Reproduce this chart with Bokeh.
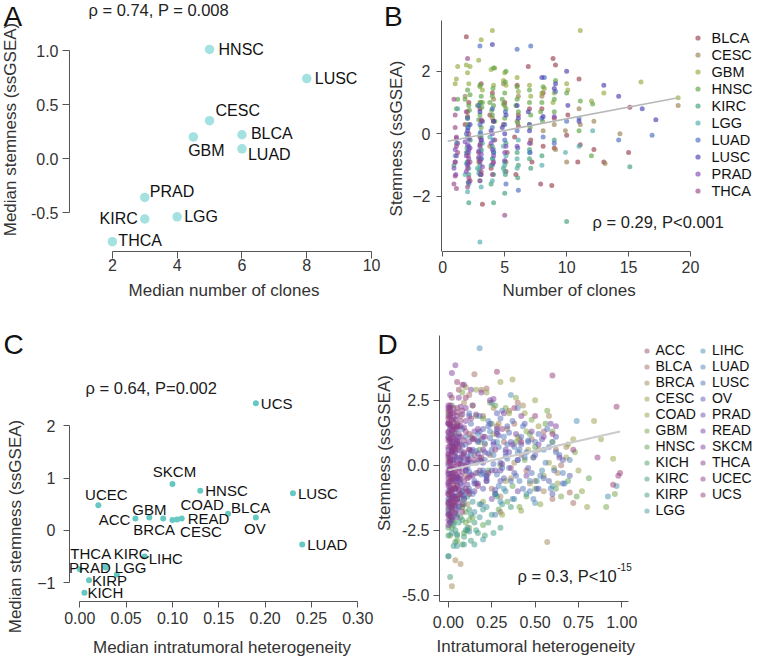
import math
from bokeh.plotting import figure
from bokeh.layouts import row, column
from bokeh.models import (Range1d, FixedTicker, PrintfTickFormatter, Label, Legend,
                          LegendItem, ColumnDataSource, Title)
from bokeh.embed import file_html
from bokeh.resources import INLINE
from bokeh.core.properties import value, field

FONT = "Liberation Sans"

# ---------------- Panel A data ----------------
a_types = ["HNSC", "LUSC", "CESC", "BLCA", "GBM", "LUAD", "PRAD", "KIRC", "LGG", "THCA"]
a_clones = [5, 8, 5, 6, 4.5, 6, 3, 3, 4, 2]
a_stemness = [1.01, 0.74, 0.35, 0.22, 0.20, 0.09, -0.36, -0.56, -0.54, -0.77]
a_xticks = [2, 4, 6, 8, 10]
a_yticks = [-0.5, 0.0, 0.5, 1.0]

# ---------------- Panel B data ----------------
b_types = ["BLCA", "CESC", "GBM", "HNSC", "KIRC", "LGG", "LUAD", "LUSC", "PRAD", "THCA"]
b_clones = [
    [1.9, 2.1, 2.2, 1.8, 2.0, 3.0, 2.9, 3.2, 3.1, 4.0, 4.2, 3.9, 3.8, 5.0, 5.2, 4.9, 6.0, 6.1, 5.9, 5.8,
     6.9, 7.0, 7.2, 8.0, 8.1, 7.9, 8.9, 9.0, 9.1, 9.0, 8.8, 10.0, 10.1, 11.0, 10.9, 11.1, 12.2, 13.0, 15.0, 15.1,
     2.0, 3.0, 3.1, 4.1, 5.1, 6.1, 7.1, 8.1],
    [2.0, 2.2, 1.8, 3.0, 3.1, 2.9, 4.0, 4.1, 3.8, 5.0, 5.1, 4.9, 6.0, 6.1, 7.0, 7.1, 8.0, 8.1, 9.0, 9.1,
     9.9, 10.0, 11.0, 11.1, 12.2, 13.1, 14.3, 19.0],
    [1.0, 1.1, 1.2, 1.9, 2.0, 2.1, 2.2, 2.9, 3.0, 3.1, 3.2, 3.9, 4.0, 4.1, 4.2, 5.0, 5.1, 4.9, 6.0, 6.1,
     7.0, 7.1, 8.0, 8.2, 8.9, 9.0, 10.0, 10.1, 11.1, 12.0, 13.0, 16.0, 19.0],
    [1.1, 1.2, 1.8, 2.0, 2.1, 2.0, 2.2, 2.8, 3.0, 3.1, 3.0, 3.1, 3.2, 3.8, 4.0, 4.1, 4.0, 4.1, 4.2, 4.8,
     5.0, 5.1, 5.0, 5.1, 6.0, 6.1, 6.0, 5.9, 7.0, 7.1, 7.0, 8.0, 8.1, 7.9, 9.0, 9.1, 9.0, 10.0, 11.0, 11.1,
     12.1, 12.0, 2.05, 2.15, 2.9, 3.05, 3.15, 3.95, 4.05, 4.9, 5.05, 6.05, 7.05, 8.05],
    [1.1, 0.9, 2.0, 2.1, 2.0, 2.1, 1.9, 3.0, 3.1, 3.0, 3.1, 2.9, 4.0, 4.1, 4.0, 4.1, 3.9, 5.0, 5.1, 5.0,
     4.9, 6.0, 6.1, 7.0, 7.1, 8.0, 9.0, 10.0, 15.1, 1.95, 2.05, 2.95, 3.05, 3.9, 4.1, 5.05, 6.05, 7.0],
    [1.2, 1.0, 2.0, 2.1, 2.0, 2.1, 1.8, 2.2, 3.0, 3.1, 3.0, 3.1, 3.0, 2.8, 3.2, 4.0, 4.1, 4.0, 3.8, 5.0,
     5.1, 4.9, 6.0, 6.1, 7.0, 8.0, 9.9, 11.0, 12.1, 1.9, 2.1, 2.9, 3.1, 4.05, 5.0, 6.0],
    [2.0, 2.1, 1.9, 3.0, 3.1, 3.0, 2.9, 4.0, 4.1, 4.0, 5.0, 5.1, 5.0, 6.0, 6.1, 6.0, 7.0, 7.1, 8.0, 8.1,
     8.2, 9.0, 9.1, 10.0, 11.0, 14.2, 16.9, 2.05, 3.05, 4.05, 5.05, 6.05, 7.05],
    [2.0, 2.2, 3.0, 3.1, 3.2, 4.0, 4.1, 3.9, 5.0, 5.1, 4.8, 6.0, 6.1, 7.0, 6.9, 8.0, 8.1, 9.0, 9.1, 10.0,
     10.1, 11.0, 13.0, 14.2, 16.1, 17.2],
    [1.0, 1.1, 1.0, 1.2, 0.9, 1.1, 2.0, 2.1, 2.0, 2.1, 2.0, 2.1, 1.9, 2.2, 1.8, 3.0, 3.1, 3.0, 3.1, 2.9,
     3.2, 4.0, 4.1, 4.0, 3.9, 5.0, 5.1, 6.0, 7.0, 9.0, 1.05, 1.9, 2.05, 2.1, 2.9, 3.05, 4.05, 5.0],
    [0.9, 1.0, 1.1, 1.0, 1.1, 0.9, 1.0, 1.2, 2.0, 2.1, 2.0, 2.1, 1.9, 2.2, 3.0, 3.1, 3.0, 3.1, 4.0, 4.1, 5.0,
     1.0, 1.1, 2.0, 2.05, 3.0],
]
b_stemness = [
    [3.1, 1.0, -1.5, 0.3, -0.9, 0.8, -0.6, -2.25, 1.6, 1.3, -0.2, -1.1, 0.6, 1.0, -0.6, 0.3, 1.55, 0.6, -1.3, -0.1,
     2.15, 0.8, -0.9, 0.8, -0.4, -1.6, 2.4, 0.5, 2.2, -0.45, -1.65, -0.05, 0.6, 1.75, -0.9, -0.35, -0.5, -0.9, -0.6, 0.85,
     0.55, -0.1, -1.3, 0.4, -1.2, 0.25, -0.2, 1.3],
    [0.7, -0.2, 1.2, 1.0, 0.4, -0.9, 0.5, 1.1, -0.4, 0.9, -0.9, 1.6, 0.4, 1.2, 0.3, -0.3, 1.2, 0.1, 0.3, -0.5,
     0.1, -0.9, 0.8, 0.3, 0.4, -0.95, 0.0, 0.9],
    [1.6, 1.75, 2.15, 2.2, 1.95, 1.6, 2.15, 2.35, 1.5, 3.0, 1.4, 2.05, 3.3, 1.55, 2.1, 1.95, 1.55, 1.7, 1.8, 1.35,
     1.55, 1.2, 1.3, 1.45, 1.0, 1.3, 1.6, 1.4, 3.3, 1.05, 1.3, 1.65, 1.15],
    [0.8, 1.1, 1.1, 1.4, 0.9, 0.5, 1.25, 0.9, 1.55, 1.2, 0.6, 0.2, 1.0, 1.0, 1.2, 0.9, 0.6, 2.1, 0.4, 1.1,
     1.3, 0.8, 0.5, 2.0, 1.1, 0.7, 1.5, 0.9, 1.0, 0.6, 1.4, 1.0, 1.5, 0.7, 1.1, 1.7, 0.7, 1.3, 0.1, 1.05,
     0.95, -0.7, 0.3, 0.75, 0.45, 1.0, 0.85, 0.75, 1.45, 0.95, 1.65, 0.35, 0.2, 0.4],
    [-0.3, -1.0, -0.9, -1.3, -0.1, -2.2, -0.6, -1.0, -0.5, -1.3, -0.1, -0.8, -0.8, -1.3, -0.4, -2.2, -1.0, -0.9, -0.3, -1.9,
     -1.1, -0.6, -1.0, -0.5, -1.1, -0.7, -0.2, -2.8, -1.05, -0.45, -1.55, -1.15, -0.3, -1.6, -0.6, -1.3, -1.4, -0.8],
    [0.8, -0.7, -1.85, -0.6, 0.2, -1.1, -1.3, -0.2, -1.5, -0.8, 0.0, -1.7, -3.45, -1.1, -0.3, -1.0, -0.5, -1.5, -0.1, -1.2,
     -0.7, -0.4, -0.8, -0.2, -0.6, -1.0, -0.6, -0.4, 0.1, -0.95, -1.6, -1.25, -0.55, -0.8, -1.0, -1.1],
    [0.5, -0.4, 0.0, 0.3, -0.8, 2.8, 0.9, 0.2, -0.6, 0.8, 0.3, -1.6, -0.2, 0.1, -1.8, 2.7, 0.3, 2.8, 0.5, -0.1,
     1.8, -0.3, 1.35, 0.4, 0.5, -0.2, -0.05, 0.2, 0.05, -0.2, 0.7, -0.45, -0.6],
    [0.1, 0.3, 0.7, -0.2, 0.4, 2.85, 0.4, 0.1, 0.0, 0.6, 0.2, 0.9, 0.5, 0.1, 0.7, 1.8, 0.55, 1.45, 1.6, 2.0,
     0.9, 0.4, 1.55, 1.2, 0.8, 0.45],
    [-0.5, -0.7, -0.9, -0.3, -1.1, -0.15, -0.6, -0.8, -0.35, -0.5, -1.0, -1.55, -0.7, -0.45, -0.25, -0.4, -0.65, -0.9, -0.2, -0.55,
     -1.05, -0.5, -0.7, 0.0, -0.3, -0.6, -0.4, -0.4, -0.3, 0.55, -1.3, -1.2, -0.95, -0.15, -0.75, -1.3, -0.95, -0.85],
    [-1.6, -1.35, -1.75, 0.2, -0.1, 1.1, 0.6, -0.6, 2.4, -1.4, -1.1, 0.0, 0.7, -0.9, -1.5, -1.2, -0.35, 0.45, -1.3, -0.9, -2.6,
     -0.9, -0.4, -1.7, -0.7, -0.85],
]
b_fit_x = [0.4, 19.0]
b_fit_y = [-0.24, 1.15]
b_xticks = [0, 5, 10, 15, 20]
b_yticks = [-2, 0, 2]

# ---------------- Panel C data ----------------
c_types = ["UCS", "SKCM", "HNSC", "LUSC", "UCEC", "BLCA", "OV", "ACC", "GBM", "BRCA", "COAD",
           "READ", "CESC", "LUAD", "LIHC", "KIRC", "PRAD", "THCA", "LGG", "KIRP", "KICH"]
c_heterogeneity = [0.19, 0.10, 0.13, 0.23, 0.02, 0.16, 0.19, 0.06, 0.075, 0.09, 0.10,
                   0.11, 0.105, 0.24, 0.07, 0.028, 0.028, 0.0, 0.04, 0.01, 0.005]
c_stemness = [2.43, 0.89, 0.76, 0.71, 0.48, 0.32, 0.25, 0.23, 0.25, 0.23, 0.20,
              0.23, 0.21, -0.27, -0.50, -0.68, -0.71, -0.74, -0.84, -0.95, -1.19]
c_xticks = [0.0, 0.05, 0.10, 0.15, 0.20, 0.25, 0.30]
c_yticks = [-1, 0, 1, 2]

# ---------------- Panel D data ----------------
d_types = ["ACC", "BLCA", "BRCA", "CESC", "COAD", "GBM", "HNSC", "KICH", "KIRC", "KIRP", "LGG",
           "LIHC", "LUAD", "LUSC", "OV", "PRAD", "READ", "SKCM", "THCA", "UCEC", "UCS"]
d_heterogeneity = [
    [0.00, 0.02, 0.05, 0.01, 0.08, 0.12, 0.03, 0.00, 0.06, 0.15],
    [0.05, 0.12, 0.20, 0.28, 0.35, 0.42, 0.50, 0.55, 0.62, 0.70, 0.15, 0.25, 0.32, 0.45, 0.60, 0.38, 0.08, 0.18, 0.22, 0.48,
     0.65, 0.30, 0.40, 0.72, 0.10],
    [0.01, 0.03, 0.06, 0.09, 0.13, 0.17, 0.21, 0.26, 0.30, 0.34, 0.38, 0.43, 0.47, 0.52, 0.58, 0.63, 0.02, 0.07, 0.11, 0.19,
     0.24, 0.29, 0.36, 0.41, 0.49, 0.57, 0.00, 0.07, 0.68, 0.55, 0.02, 0.04],
    [0.14, 0.22, 0.30, 0.37, 0.44, 0.52, 0.60, 0.68, 0.75, 0.84, 0.46, 0.33, 0.26, 0.18, 0.55, 0.63, 0.72, 0.10, 0.40, 0.50,
     0.58, 0.80],
    [0.03, 0.08, 0.16, 0.24, 0.31, 0.39, 0.45, 0.53, 0.61, 0.69, 0.77, 0.88, 0.95, 0.20, 0.35, 0.50, 0.12, 0.42],
    [0.00, 0.02, 0.05, 0.10, 0.14, 0.20, 0.27, 0.33, 0.41, 0.48, 0.57, 0.65, 0.73, 0.91, 0.96, 0.08, 0.30, 0.44, 0.60, 0.01],
    [0.02, 0.05, 0.09, 0.12, 0.16, 0.20, 0.25, 0.29, 0.34, 0.39, 0.45, 0.50, 0.56, 0.62, 0.69, 0.74, 0.81, 0.04, 0.10, 0.18,
     0.27, 0.37, 0.47, 0.08, 0.23],
    [0.00, 0.01, 0.03, 0.05, 0.07, 0.02, 0.11, 0.00, 0.04, 0.09],
    [0.00, 0.01, 0.02, 0.03, 0.05, 0.06, 0.08, 0.10, 0.12, 0.15, 0.18, 0.21, 0.25, 0.30, 0.36, 0.04, 0.07, 0.00, 0.13, 0.17,
     0.02, 0.09, 0.23, 0.28, 0.01],
    [0.00, 0.02, 0.04, 0.06, 0.09, 0.13, 0.16, 0.20, 0.26, 0.31, 0.01, 0.05, 0.11, 0.03, 0.15],
    [0.00, 0.01, 0.02, 0.04, 0.06, 0.08, 0.11, 0.14, 0.18, 0.22, 0.27, 0.32, 0.38, 0.45, 0.51, 0.02, 0.05, 0.09, 0.12, 0.20,
     0.60, 0.00],
    [0.03, 0.07, 0.12, 0.17, 0.22, 0.28, 0.33, 0.40, 0.47, 0.54, 0.60, 0.67, 0.74, 0.92, 0.97, 0.15, 0.30, 0.50, 0.36, 0.25,
     0.18],
    [0.02, 0.05, 0.08, 0.11, 0.14, 0.17, 0.20, 0.23, 0.26, 0.29, 0.32, 0.35, 0.38, 0.41, 0.44, 0.47, 0.50, 0.53, 0.56, 0.59,
     0.62, 0.66, 0.70, 0.06, 0.12, 0.19, 0.24, 0.31, 0.37, 0.43, 0.49, 0.55, 0.13, 0.27, 0.40,
     0.03, 0.07, 0.10, 0.16, 0.21, 0.28, 0.34, 0.46],
    [0.01, 0.04, 0.07, 0.10, 0.13, 0.16, 0.19, 0.22, 0.25, 0.28, 0.31, 0.34, 0.37, 0.40, 0.43, 0.46, 0.49, 0.52, 0.55, 0.58,
     0.61, 0.64, 0.09, 0.15, 0.21, 0.27, 0.33, 0.39, 0.45, 0.51, 0.18, 0.30, 0.42, 0.57, 0.66,
     0.02, 0.05, 0.08, 0.12, 0.20, 0.24, 0.35, 0.48, 0.11, 0.14, 0.19, 0.23, 0.26, 0.29, 0.36, 0.41],
    [0.02, 0.06, 0.10, 0.14, 0.18, 0.22, 0.26, 0.30, 0.34, 0.38, 0.42, 0.46, 0.50, 0.54, 0.58, 0.62, 0.66, 0.70, 0.04, 0.12,
     0.20, 0.28, 0.36, 0.44, 0.52, 0.60, 0.08, 0.16, 0.24, 0.32,
     0.01, 0.03, 0.05, 0.07, 0.09, 0.11, 0.15, 0.19, 0.23, 0.27,
     0.13, 0.17, 0.21, 0.25, 0.29, 0.33, 0.12, 0.20, 0.30, 0.40],
    [0.00, 0.00, 0.00, 0.00, 0.00, 0.01, 0.01, 0.01, 0.01, 0.02, 0.02, 0.02, 0.03, 0.03, 0.04, 0.04, 0.05, 0.06, 0.07, 0.08,
     0.10, 0.12, 0.15, 0.18, 0.22, 0.26, 0.30, 0.35, 0.02, 0.05, 0.09, 0.00, 0.01, 0.03, 0.06,
     0.00, 0.01, 0.02, 0.03, 0.04, 0.05, 0.06, 0.00, 0.02, 0.07, 0.01, 0.03, 0.09, 0.11, 0.04,
     0.01, 0.03, 0.05, 0.08, 0.13, 0.17, 0.20],
    [0.03, 0.07, 0.11, 0.16, 0.21, 0.27, 0.33, 0.39, 0.45, 0.52, 0.59, 0.15, 0.25, 0.40, 0.64,
     0.01, 0.02, 0.04, 0.06, 0.08, 0.10, 0.13, 0.18, 0.12, 0.17, 0.22, 0.28, 0.31],
    [0.00, 0.00, 0.01, 0.02, 0.03, 0.04, 0.05, 0.06, 0.08, 0.10, 0.12, 0.14, 0.17, 0.20, 0.24, 0.28, 0.32, 0.37, 0.42, 0.48,
     0.55, 0.02, 0.06, 0.09, 0.13, 0.19, 0.26, 0.62, 0.01, 0.04,
     0.00, 0.01, 0.02, 0.03, 0.04, 0.05, 0.07, 0.09, 0.11, 0.00, 0.03, 0.06,
     0.01, 0.03, 0.05, 0.08, 0.10, 0.14, 0.16],
    [0.00, 0.00, 0.00, 0.00, 0.00, 0.00, 0.00, 0.00, 0.00, 0.01, 0.01, 0.01, 0.01, 0.01, 0.01, 0.02, 0.02, 0.02, 0.02, 0.02,
     0.03, 0.03, 0.03, 0.03, 0.04, 0.04, 0.04, 0.05, 0.05, 0.06, 0.06, 0.07, 0.08, 0.09, 0.10, 0.11, 0.00, 0.00, 0.01, 0.02,
     0.03, 0.05, 0.07, 0.12, 0.14,
     0.00, 0.01, 0.02, 0.00, 0.01, 0.03, 0.02, 0.04, 0.00, 0.01, 0.05, 0.03, 0.02, 0.06, 0.00, 0.04, 0.01, 0.08, 0.02, 0.03,
     0.00, 0.01, 0.02, 0.03, 0.00, 0.01, 0.04, 0.05, 0.02, 0.06, 0.07, 0.00],
    [0.00, 0.00, 0.00, 0.01, 0.01, 0.02, 0.02, 0.03, 0.03, 0.04, 0.05, 0.05, 0.06, 0.07, 0.08, 0.09, 0.10, 0.11, 0.13, 0.15,
     0.17, 0.20, 0.23, 0.27, 0.31, 0.36, 0.42, 0.50, 0.60, 0.72, 0.86, 0.98, 0.04, 0.08, 0.12,
     0.00, 0.01, 0.02, 0.03, 0.04, 0.05, 0.06, 0.07, 0.00, 0.01, 0.03, 0.05, 0.08, 0.10, 0.02,
     0.01, 0.02, 0.04, 0.06, 0.09, 0.12, 0.00, 0.03],
    [0.05, 0.10, 0.15, 0.19, 0.28, 0.38, 0.95, 0.99, 0.97, 0.60],
]
d_stemness = [
    [1.8, 2.6, -0.5, 0.9, 3.1, 1.2, -1.4, -0.3, 2.9, 0.4],
    [2.2, 2.7, 1.9, 1.5, 2.1, 0.4, -0.6, 1.3, 0.6, -1.05, 3.5, -0.9, 0.9, -0.2, -1.3, 1.6, -1.6, 0.2, 2.95, 1.0,
     0.0, -1.8, 2.4, -1.45, -0.4],
    [1.5, -0.8, 0.7, 2.4, 1.1, -0.3, 0.8, 2.2, -1.2, 1.4, 0.1, 2.3, -0.7, 0.6, 1.9, -0.3, -2.0, 1.9, -1.5, 2.9,
     0.4, 1.6, -0.5, 1.0, 0.3, -2.95, 0.2, -3.8, 0.7, -1.0, -4.65, -3.65],
    [2.3, 2.8, 3.2, 3.3, 2.0, 1.5, 0.9, 0.3, -0.2, 1.7, 0.6, -0.6, 1.2, 0.9, -0.4, -0.7, 1.0, 3.0, 1.1, 2.5,
     0.1, -1.6],
    [-2.1, -1.6, 2.9, 2.4, -1.9, 2.6, 1.3, -1.5, -0.1, 0.8, -1.0, 1.0, 0.25, -1.4, 2.0, -0.9, -2.4, -1.75],
    [2.0, 2.3, 1.6, -2.2, -2.0, 1.8, -1.1, 2.2, -1.6, 1.75, 2.1, -1.2, 0.5, -1.6, -1.1, 2.8, 0.0, 0.2, 1.3, -2.7],
    [-2.4, -2.9, -2.6, -2.1, 1.9, -2.3, 1.6, -1.7, -1.4, 0.9, -1.2, 0.7, 1.6, -0.9, -0.6, -1.2, -0.5, 1.2, -1.8, 0.6,
     2.3, -0.8, 1.2, -3.05, -0.2],
    [-2.4, -1.9, -2.2, -2.7, -2.0, -1.6, -2.5, -3.5, -2.95, -1.3],
    [-1.8, -2.1, -1.5, -2.3, -1.9, -1.3, -2.1, -2.5, -1.7, -2.2, -1.5, -2.7, -1.9, -2.4, -1.6, -2.5, -1.1, -2.7, -2.9, -2.6,
     -1.2, -2.75, -2.2, -1.2, -4.3],
    [-1.4, -1.7, -1.2, -2.2, -1.5, -1.9, -2.5, -1.7, -2.6, -1.5, -2.2, -2.65, -1.2, -3.1, -3.05],
    [-1.6, -1.2, -2.0, -0.9, -1.6, -1.0, -2.4, -1.4, -2.0, -1.6, -1.1, -0.9, -1.3, -1.1, -0.6, -2.6, -3.1, -3.05, -2.55, -2.85,
     -0.8, -3.5],
    [-1.3, 0.3, -0.9, 1.2, -0.4, 0.9, -1.0, 0.5, -0.6, -0.2, 0.9, -0.7, 1.7, -1.2, -0.8, -1.8, -1.4, -1.45, 2.7, 2.4,
     4.5],
    [0.8, -0.5, 1.4, 0.2, -1.1, 0.9, -0.3, 1.7, 0.4, -0.8, 1.1, -0.1, 0.7, -0.6, 0.3, -1.0, 0.9, -0.4, 0.1, -0.9,
     0.5, -0.3, 0.2, -1.6, 2.0, -1.5, 1.3, 2.1, -1.3, 1.5, -1.3, 0.6, 0.4, -1.9, 2.2,
     -1.2, 0.55, 1.1, 0.55, 0.85, -0.35, 0.25, 0.95],
    [1.2, 0.3, -0.7, 0.8, 1.6, 0.1, 1.0, -0.6, 0.6, 1.3, -0.1, 0.8, 1.7, 0.2, -0.9, 0.9, 0.3, 1.2, -0.5, 0.7,
     -0.2, 0.4, -1.2, -0.6, 0.2, -1.1, 0.5, -0.4, 0.5, -0.9, 1.9, 1.8, 1.1, 1.4, -0.7,
     0.6, 1.4, 0.15, -0.25, -0.2, 1.05, 1.25, -0.3, -0.1, 1.0, -0.35, 1.5, 0.05, 0.7, -0.6, 0.6],
    [0.5, 1.1, -0.2, 0.6, 1.3, -0.4, 0.9, 0.1, 1.5, -0.3, 0.8, -0.1, 0.4, 1.0, -0.6, 1.1, 0.2, -0.4, -0.6, 1.9,
     -0.9, 2.0, 0.9, 1.6, -0.9, -1.1, 0.0, -0.3, 1.6, -0.5,
     -0.9, 0.2, -0.45, 0.8, -1.0, 0.35, -0.7, 0.15, 0.45, -0.95,
     0.1, 0.95, 0.5, -0.2, 1.15, 0.35, -1.0, 1.4, -0.6, 0.2],
    [-1.9, -1.3, -0.7, 0.0, 0.6, -1.6, -1.0, -0.3, 0.3, -1.8, -0.6, 0.9, -1.2, 0.1, -0.9, 0.5, -0.4, -1.4, 0.2, -0.8,
     -0.2, 0.6, -1.0, 0.3, -0.5, 0.8, -0.2, 0.5, -2.1, -1.7, -1.3, 1.1, 1.4, 1.2, 0.9,
     -0.35, -0.15, -0.95, -1.55, -1.15, 0.3, -0.1, -1.0, 0.55, -0.55, -2.2, 0.75, 0.45, -0.75, -1.85,
     -1.35, -0.45, -2.0, -1.15, -0.35, -0.7, 0.1],
    [0.7, 1.5, 0.1, -0.7, 1.1, -0.2, 0.6, 1.2, -0.4, 0.8, 1.6, 1.3, -1.3, -1.0, 0.3,
     0.2, -0.3, 1.0, -0.6, 0.75, -0.05, 0.55, -0.2, -0.45, 0.45, -0.6, 1.4, 0.05],
    [2.2, 1.6, 1.0, 2.0, 1.4, 0.7, 1.9, 1.2, 0.4, 1.7, 0.9, 2.3, 1.4, 0.6, 2.5, 1.2, 2.0, 0.8, 1.9, 1.3,
     1.1, 3.55, 2.6, 3.1, 2.9, 2.8, 2.55, 1.5, 2.7, 3.85,
     1.25, 2.3, 0.55, 2.2, 1.75, 0.95, 2.25, 1.45, 0.25, 0.3, -0.55, -0.95,
     1.55, 1.0, 1.55, 1.95, 2.2, 1.05, 1.95],
    [-1.7, -1.1, -0.5, 0.1, 0.7, 1.3, 1.9, -2.1, -0.2, -1.4, -0.8, -0.1, 0.4, 1.0, 1.6, -1.6, -1.0, -0.4, 0.2, 0.8,
     -1.2, -0.6, 0.5, 1.1, -0.9, -0.2, 0.8, -1.3, 0.1, -0.5, 0.6, -1.1, 0.3, -0.6, 0.0, -1.0, 2.3, -2.3, 2.1, 1.5,
     1.8, 1.5, 1.1, 0.2, -0.4,
     -1.9, -1.85, -2.0, -1.45, 0.75, -1.45, 1.35, 0.35, -0.8, -0.45, -0.75, 1.45, -0.15, 0.05, 0.45, -1.55, 1.95, -0.25, 0.55, -0.05,
     -0.65, 0.15, -1.25, -0.3, 1.05, -1.95, 0.6, 0.8, 1.75, -0.95, -0.4, 1.65],
    [-1.5, 0.4, 1.6, -0.6, 2.2, -1.3, 1.2, -0.1, 2.0, 1.4, -0.8, 0.9, -0.2, 1.7, -1.5, 0.5, 1.3, -0.5, 1.8, 0.2,
     -0.8, 1.1, -0.3, 0.6, 1.4, -0.1, 0.9, 1.9, 1.2, 0.6, 0.3, -0.4, -1.8, -1.8, -1.1,
     0.95, 1.85, -0.5, 0.65, -0.35, 2.05, 1.5, 0.05, 2.1, -1.05, -0.85, -1.3, 2.1, -0.9, -1.65,
     0.1, -0.95, -1.45, -1.15, 0.95, 0.6, -1.1, 1.65],
    [3.2, 2.6, 1.0, 0.3, 3.6, 2.2, -0.75, -0.3, 2.25, 3.45],
]
d_fit_x = [0.0, 0.99]
d_fit_y = [-0.19, 1.30]
d_xticks = [0.0, 0.25, 0.50, 0.75, 1.00]
d_yticks = [-5.0, -2.5, 0.0, 2.5]

# ---------------- styles ----------------
b_colors = ["#98404e", "#9a8050", "#94aa40", "#5ea444", "#40a078", "#4eaaaa", "#4a6cc0", "#4a40b0",
            "#8048b8", "#984a88"]
d_colors = ["#9a5068", "#a46862", "#a48656", "#9a9c46", "#8ca444", "#76a446", "#5ea250", "#4a9e60",
            "#3e9a74", "#3c9a88", "#4298a0", "#4a8eb4", "#5080bc", "#5470bc", "#5a5cb4", "#6a4eae",
            "#7648a6", "#82409e", "#8c3c90", "#923c80", "#963e72"]
AXIS_COL = "#555555"
TICK_COL = "#333333"
H1, H2 = 326, 334


def style(p, tick_out, x_standoff, y_standoff, title_standoff, tick_size="16px"):
    p.title.visible = False
    p.xgrid.visible = False
    p.ygrid.visible = False
    p.outline_line_color = None
    for ax in (p.xaxis[0], p.yaxis[0]):
        ax.major_tick_in = 0
        ax.major_tick_out = tick_out
        ax.minor_tick_line_color = None
        ax.axis_line_color = AXIS_COL
        ax.major_tick_line_color = AXIS_COL
        ax.major_label_text_font = FONT
        ax.major_label_text_font_size = tick_size
        ax.major_label_text_color = TICK_COL
        ax.axis_label_text_font = FONT
        ax.axis_label_text_font_size = "17px"
        ax.axis_label_text_font_style = "normal"
        ax.axis_label_text_color = TICK_COL
        ax.axis_label_standoff = title_standoff
    p.xaxis[0].major_label_standoff = x_standoff
    p.yaxis[0].major_label_standoff = y_standoff


def note(p, x, y, t, size="16.5px", align="left"):
    p.add_layout(Label(x=x, y=y, text=t, text_font=FONT, text_font_size=size,
                       text_baseline="middle", text_align=align, text_color="#222222"))


def gutter(w, h, x0, ref_top, ref_bottom, b_top, b_bottom, letter, letter_xy, ytitle, ytitle_xy):
    """Narrow strip (in reference pixel units) holding the panel letter and rotated y title."""
    g = figure(width=w, height=h, x_range=Range1d(x0, x0 + w), y_range=Range1d(ref_bottom, ref_top),
               x_axis_type=None, y_axis_type=None, output_backend="svg", toolbar_location=None,
               min_border_left=0, min_border_right=0, min_border_top=b_top, min_border_bottom=b_bottom)
    g.title.visible = False
    g.outline_line_color = None
    g.add_layout(Label(x=letter_xy[0], y=letter_xy[1], text=letter, text_font=FONT,
                       text_font_size="28px", text_baseline="top", text_align="left",
                       text_color="#111111"))
    g.add_layout(Label(x=ytitle_xy[0], y=ytitle_xy[1], text=ytitle, angle=math.pi / 2,
                       text_font=FONT, text_font_size="17px", text_align="center",
                       text_baseline="middle", text_color=TICK_COL))
    return g


# ---------------- Panel A ----------------
gA = gutter(27, H1, 0, 0, 326, 0, 0, "A", (3, 0), "Median stemness (ssGSEA)", (10, 129))
pA = figure(width=356, height=H1, x_range=Range1d(0.677, 10.215), y_range=Range1d(-0.861, 1.463),
            output_backend="svg", toolbar_location=None,
            min_border_left=41, min_border_right=5, min_border_top=0, min_border_bottom=75)
style(pA, 7, 0, 4, 7)
pA.xaxis.ticker = FixedTicker(ticks=a_xticks)
pA.yaxis.ticker = FixedTicker(ticks=a_yticks)
pA.yaxis.formatter = PrintfTickFormatter(format="%.1f")
pA.xaxis.bounds = (a_xticks[0], a_xticks[-1])
pA.yaxis.bounds = (a_yticks[0], a_yticks[-1])
pA.xaxis.axis_label = "Median number of clones"
srcA = ColumnDataSource(dict(x=a_clones, y=a_stemness, t=a_types,
                             dx=[9, 8, 6, 9, 13, 6, 5, -7, 7, 6],
                             dy=[0, 0, -10, -1, 14, 6, -6, 0, 0, -1],
                             al=["left", "left", "left", "left", "center", "left", "left", "right", "left", "left"]))
pA.scatter("x", "y", source=srcA, size=9.5, fill_color="#a4e1e1", line_color=None)
pA.text("x", "y", text="t", source=srcA, x_offset="dx", y_offset="dy", text_align=field("al"),
        text_baseline="middle", text_font=value(FONT), text_font_size="16px", text_color="#111111")
note(pA, 1.262, 1.372, "\u03c1 = 0.74, P = 0.008")

# ---------------- Panel B ----------------
gB = gutter(23, H1, 383, 0, 251, 0, 75, "B", (383.5, 0), "Stemness (ssGSEA)", (396, 138))
pB = figure(width=354, height=H1, x_range=Range1d(-0.105, 25.65), y_range=Range1d(-3.757, 4.255),
            output_backend="svg", toolbar_location=None,
            min_border_left=35, min_border_right=0, min_border_top=0, min_border_bottom=75)
style(pB, 5, 4, 6, 5)
pB.xaxis.ticker = FixedTicker(ticks=b_xticks)
pB.yaxis.ticker = FixedTicker(ticks=b_yticks)
pB.xaxis.bounds = (b_xticks[0], b_xticks[-1])
pB.yaxis.bounds = (-3.757, 3.616)
itemsB = []
for t, xs, ys, c in zip(b_types, b_clones, b_stemness, b_colors):
    r = pB.scatter(xs, ys, size=5, fill_color=c, line_color=None, fill_alpha=0.65)
    itemsB.append(LegendItem(label=t, renderers=[r]))
pB.line(b_fit_x, b_fit_y, line_color="#b8b8b8", line_width=1.6)
legB = Legend(items=itemsB, location=(249.5, 52), orientation="vertical", padding=0, margin=0,
              spacing=0, glyph_width=13, glyph_height=13, label_height=17, label_standoff=8,
              label_text_font=FONT, label_text_font_size="14.5px", label_text_color="#111111",
              border_line_color=None, background_fill_alpha=0)
pB.add_layout(legB, "center")
pB.add_layout(Title(text="Number of clones", align="left", offset=61, standoff=7,
                    text_font=FONT, text_font_size="17px", text_font_style="normal",
                    text_color=TICK_COL), "below")
note(pB, 12.09, -2.82, "\u03c1 = 0.29, P<0.001")

# ---------------- Panel C ----------------
gC = gutter(27, H2, 0, 328, 662, 0, 0, "C", (3, 330), "Median stemness (ssGSEA)", (15, 528))
pC = figure(width=347, height=H2, x_range=Range1d(-0.0111, 0.318), y_range=Range1d(-1.358, 3.861),
            output_backend="svg", toolbar_location=None,
            min_border_left=42, min_border_right=0, min_border_top=2, min_border_bottom=58)
style(pC, 6, 4, 8, 11)
pC.xaxis.ticker = FixedTicker(ticks=c_xticks)
pC.yaxis.ticker = FixedTicker(ticks=c_yticks)
pC.xaxis.formatter = PrintfTickFormatter(format="%.2f")
pC.xaxis.bounds = (c_xticks[0], c_xticks[-1])
pC.yaxis.bounds = (c_yticks[0], c_yticks[-1])
pC.xaxis.axis_label = "Median intratumoral heterogeneity"
srcC = ColumnDataSource(dict(x=c_heterogeneity, y=c_stemness, t=c_types,
                             dx=[5, 2, 5, 5, 8, 3, -1, -5, 0, -9, 8, 6, 3, 5, 4, 8, 5, 11, -2, 3, 3],
                             dy=[0, -12, 0, 0, -11, -6, 11, 1, -8, 11, -16, 0, 12, 0, 2, -13, 0, -16, -7, 0, 0],
                             al=["left", "center", "left", "left", "center", "left", "center", "right",
                                 "center", "center", "left", "left", "left", "left", "left", "left",
                                 "right", "center", "left", "left", "left"]))
pC.scatter("x", "y", source=srcC, size=6, fill_color="#66c8c2", line_color=None)
pC.text("x", "y", text="t", source=srcC, x_offset="dx", y_offset="dy", text_align=field("al"),
        text_baseline="middle", text_font=value(FONT), text_font_size="15px", text_color="#111111")
note(pC, 0.0062, 2.718, "\u03c1 = 0.64, P=0.002")

# ---------------- Panel D ----------------
gD = gutter(24, H2, 374, 330, 604, 2, 58, "D", (377, 330), "Stemness (ssGSEA)", (384, 455))
pD = figure(width=362, height=H2, x_range=Range1d(-0.0514, 1.8), y_range=Range1d(-5.238, 5.26),
            output_backend="svg", toolbar_location=None,
            min_border_left=38, min_border_right=0, min_border_top=2, min_border_bottom=58)
style(pD, 6, 8, 4, 8)
pD.xaxis.ticker = FixedTicker(ticks=d_xticks)
pD.yaxis.ticker = FixedTicker(ticks=d_yticks)
pD.xaxis.formatter = PrintfTickFormatter(format="%.2f")
pD.yaxis.formatter = PrintfTickFormatter(format="%.1f")
pD.xaxis.bounds = (-0.0514, 1.04)
pD.yaxis.bounds = (-5.238, 4.992)
itemsD = []
for t, xs, ys, c in zip(d_types, d_heterogeneity, d_stemness, d_colors):
    r = pD.scatter(xs, ys, size=6, fill_color=c, line_color=None, fill_alpha=0.5)
    itemsD.append(LegendItem(label=t, renderers=[r]))
pD.line(d_fit_x, d_fit_y, line_color="#cccccc", line_width=2.2)
legD = Legend(items=itemsD, location=(200.5, 83), orientation="vertical", nrows=11, padding=0, margin=0,
              spacing=0, glyph_width=13, glyph_height=13, label_height=16, label_width=38,
              label_standoff=3, label_text_font=FONT, label_text_font_size="14px",
              label_text_color="#111111", border_line_color=None, background_fill_alpha=0)
pD.add_layout(legD, "center")
pD.add_layout(Title(text="Intratumoral heterogeneity", align="left", offset=-3, standoff=9,
                    text_font=FONT, text_font_size="17px", text_font_style="normal",
                    text_color=TICK_COL), "below")
note(pD, 0.971, -4.25, "\u03c1 = 0.3, P<10", align="right")
note(pD, 0.974, -3.91, "-15", size="10px")

layout = row(column(gA, gC), column(row(pA, gB, pB), row(pC, gD, pD)))
open("out.html", "w").write(file_html(layout, INLINE))
